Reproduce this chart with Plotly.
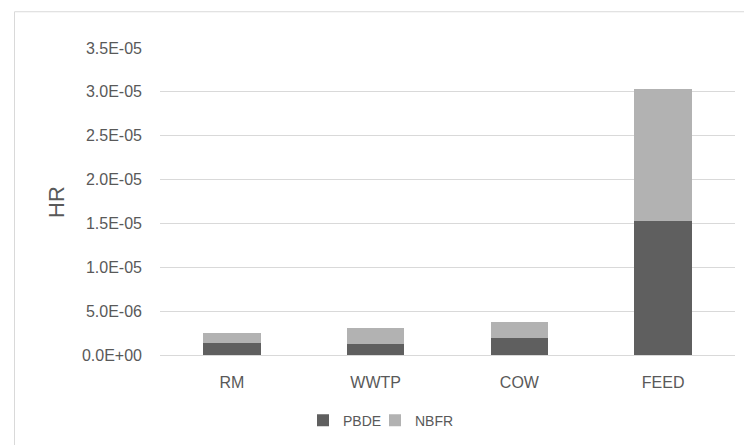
import plotly.graph_objects as go

# Hazard ratio by source, stacked by flame-retardant class
categories = ["RM", "WWTP", "COW", "FEED"]
pbde = [1.4e-6, 1.3e-6, 1.9e-6, 1.53e-5]
nbfr = [1.1e-6, 1.8e-6, 1.9e-6, 1.5e-5]
y_ticks = [0, 5e-6, 1e-5, 1.5e-5, 2e-5, 2.5e-5, 3e-5, 3.5e-5]
y_tick_text = [f"{v:.1E}" for v in y_ticks]

W, H = 744, 445
L, R, T, B = 160, 9, 48, 88
pw, ph = W - L - R, H - T - B

def px_x(x):
    return (x - L) / pw

def px_y(y):
    return (H - B - y) / ph

text_color = "#595959"
grid_color = "#d9d9d9"
font_family = "Liberation Sans, Arial, sans-serif"

fig = go.Figure()
fig.add_trace(go.Bar(x=categories, y=pbde, name="PBDE", legend="legend",
                     marker=dict(color="#5f5f5f", line=dict(width=0))))
fig.add_trace(go.Bar(x=categories, y=nbfr, name="NBFR", legend="legend2",
                     marker=dict(color="#b2b2b2", line=dict(width=0))))

legend_common = dict(
    orientation="h",
    xanchor="left",
    y=px_y(423), yanchor="middle",
    font=dict(size=14, color=text_color),
    itemwidth=30,
    bgcolor="rgba(0,0,0,0)",
)

fig.update_layout(
    barmode="stack",
    bargap=0.6,
    width=W, height=H,
    margin=dict(l=L, r=R, t=T, b=B, pad=0),
    paper_bgcolor="white",
    plot_bgcolor="white",
    font=dict(family=font_family, color=text_color, size=16),
    showlegend=True,
    legend=dict(x=px_x(303), **legend_common),
    legend2=dict(x=px_x(375), **legend_common),
    xaxis=dict(
        showgrid=False,
        showline=True, linecolor=grid_color, linewidth=1,
        ticks="", ticklabelstandoff=13,
        tickfont=dict(size=16, color=text_color),
        zeroline=False,
    ),
    yaxis=dict(
        range=[0, 3.5e-5],
        tickvals=y_ticks, ticktext=y_tick_text,
        showgrid=True, gridcolor=grid_color, gridwidth=1,
        showline=False, zeroline=False,
        ticks="", ticklabelstandoff=17,
        tickfont=dict(size=16, color=text_color),
    ),
    annotations=[dict(
        text="HR", textangle=-90,
        x=px_x(57), y=px_y(203), xref="paper", yref="paper",
        xanchor="center", yanchor="middle", showarrow=False,
        font=dict(size=22, color=text_color, family=font_family),
    )],
    shapes=[dict(
        type="rect", xref="paper", yref="paper",
        x0=px_x(14.5), x1=px_x(800), y0=px_y(500), y1=px_y(11.5),
        line=dict(color=grid_color, width=1), fillcolor="rgba(0,0,0,0)",
        layer="below",
    )],
)

fig.write_html("out.html")
